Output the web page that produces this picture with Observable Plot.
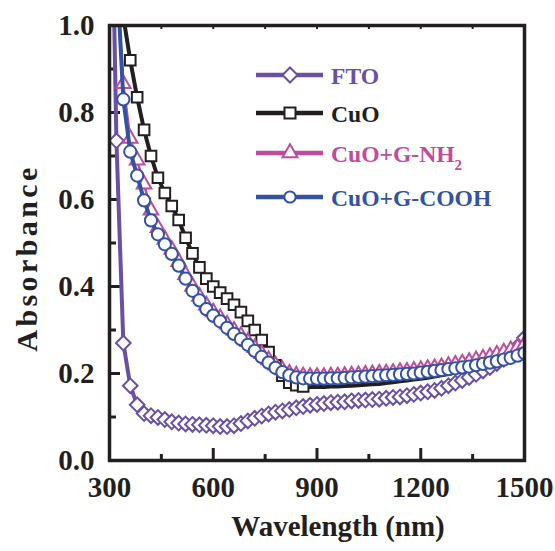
<!DOCTYPE html>
<html><head><meta charset="utf-8">
<script src="https://cdn.jsdelivr.net/npm/d3@7"></script>
<script src="https://cdn.jsdelivr.net/npm/@observablehq/plot@0.6"></script>
<style>
body{margin:0;background:#fff}
#chart{width:555px;height:551px}
</style>
</head><body><div id="chart"></div>
<script>
// ---------- data ----------
const wavelength = [300,320,340,360,380,400,420,440,460,480,500,520,540,560,580,600,620,640,660,680,700,720,740,760,780,800,820,840,860,880,900,920,940,960,980,1000,1020,1040,1060,1080,1100,1120,1140,1160,1180,1200,1220,1240,1260,1280,1300,1320,1340,1360,1380,1400,1420,1440,1460,1480,1500];
const ftoValues = [1.6,0.735,0.27,0.172,0.128,0.108,0.103,0.099,0.094,0.089,0.086,0.084,0.083,0.082,0.081,0.080,0.078,0.078,0.080,0.085,0.091,0.097,0.102,0.107,0.111,0.114,0.117,0.121,0.124,0.127,0.129,0.131,0.133,0.134,0.135,0.137,0.138,0.139,0.140,0.141,0.143,0.145,0.146,0.149,0.152,0.155,0.158,0.161,0.166,0.172,0.178,0.184,0.191,0.198,0.206,0.214,0.223,0.233,0.246,0.262,0.282];
const cuoValues = [1.30,1.15,1.02,0.92,0.835,0.76,0.70,0.65,0.615,0.585,0.553,0.512,0.476,0.444,0.418,0.400,0.386,0.372,0.358,0.341,0.321,0.300,0.277,0.249,0.219,0.195,0.179,0.173,0.170,0.169,0.169,0.169,0.170,0.170,0.171,0.172,0.173,0.174,0.175,0.176,0.178,0.180,0.182,0.184,0.186,0.188,0.190,0.193,0.196,0.199,0.202,0.206,0.209,0.212,0.215,0.218,0.222,0.227,0.233,0.240,0.248];
const nh2Values = [1.5,1.12,0.866,0.74,0.69,0.635,0.575,0.535,0.508,0.485,0.457,0.427,0.400,0.377,0.357,0.341,0.328,0.313,0.299,0.287,0.273,0.259,0.245,0.231,0.219,0.208,0.200,0.196,0.194,0.193,0.193,0.193,0.194,0.194,0.195,0.196,0.197,0.198,0.199,0.200,0.201,0.202,0.204,0.205,0.207,0.209,0.211,0.213,0.215,0.218,0.221,0.224,0.227,0.231,0.235,0.239,0.244,0.249,0.254,0.260,0.267];
const coohValues = [1.5,1.14,0.83,0.71,0.655,0.598,0.552,0.52,0.497,0.475,0.448,0.418,0.39,0.368,0.348,0.333,0.32,0.305,0.291,0.279,0.266,0.252,0.238,0.225,0.213,0.203,0.196,0.191,0.189,0.188,0.188,0.188,0.189,0.189,0.190,0.191,0.192,0.193,0.194,0.195,0.196,0.197,0.198,0.199,0.200,0.202,0.204,0.206,0.208,0.210,0.212,0.214,0.216,0.219,0.222,0.225,0.228,0.232,0.236,0.241,0.247];
const cuoMarkerMax = 860; // squares are shown only up to here
const xTicks = [300,600,900,1200,1500];
const xMinorTicks = [450,750,1050,1350];
const yTicks = [0,0.2,0.4,0.6,0.8,1.0];
const yMinorTicks = [0.1,0.3,0.5,0.7,0.9];
const seriesNames = ["FTO","CuO","CuO+G-NH","CuO+G-COOH"];
const seriesSub = ["","","2",""];
const seriesColors = ["#6a4fa6","#231f20","#bf4c9c","#3352a3"];
const xLabel = "Wavelength (nm)";
const yLabel = "Absorbance";

// ---------- layout ----------
const W = 555, H = 551;
const mL = 109, mR = 31, mT = 25, mB = 91;
const plotW = W - mL - mR, plotH = H - mT - mB;
const serif = "'Liberation Serif','Times New Roman',Times,serif";
const ink = "#231f20";

const mk = vals => wavelength.map((wl, i) => ({wl, v: vals[i]}));
const fto = mk(ftoValues), cuo = mk(cuoValues), nh2 = mk(nh2Values), cooh = mk(coohValues);

const plot = Plot.plot({
  width: W, height: H,
  marginLeft: mL, marginRight: mR, marginTop: mT, marginBottom: mB,
  style: {fontFamily: serif, fontSize: "29px", fontWeight: "bold", color: ink, background: "#fff"},
  x: {domain: [300, 1500]},
  y: {domain: [0, 1]},
  marks: [
    Plot.axisX({ticks: xTicks, tickSize: 0, tickPadding: 16, tickFormat: d3.format("d"), label: null, fontSize: 29, fontWeight: "bold"}),
    Plot.axisY({ticks: yTicks, tickSize: 0, tickPadding: 15, tickFormat: d3.format(".1f"), label: null, fontSize: 29, fontWeight: "bold"}),
    // inward ticks
    Plot.tickX(xTicks, {x: d => d, insetTop: plotH - 12, stroke: ink, strokeWidth: 3}),
    Plot.tickX(xMinorTicks, {x: d => d, insetTop: plotH - 6, stroke: ink, strokeWidth: 3}),
    Plot.tickX(xTicks.concat(xMinorTicks), {x: d => d, insetBottom: plotH - 4, stroke: ink, strokeWidth: 2}),
    Plot.tickY(yTicks, {y: d => d, insetRight: plotW - 11, stroke: ink, strokeWidth: 3}),
    Plot.tickY(yMinorTicks, {y: d => d, insetRight: plotW - 7, stroke: ink, strokeWidth: 3}),
    // FTO
    Plot.line(fto, {x: "wl", y: "v", stroke: seriesColors[0], strokeWidth: 4, clip: true}),
    Plot.dot(fto, {x: "wl", y: "v", symbol: "diamond2", r: 6.6, fill: "white", stroke: seriesColors[0], strokeWidth: 2, clip: true}),
    // CuO
    Plot.line(cuo, {x: "wl", y: "v", stroke: seriesColors[1], strokeWidth: 4, clip: true}),
    Plot.dot(cuo.filter(d => d.wl <= cuoMarkerMax), {x: "wl", y: "v", symbol: "square", r: 6.0, fill: "white", stroke: seriesColors[1], strokeWidth: 2, clip: true}),
    // NH2
    Plot.line(nh2, {x: "wl", y: "v", stroke: seriesColors[2], strokeWidth: 2.5, clip: true}),
    Plot.dot(nh2, {x: "wl", y: "v", symbol: "triangle", r: 5.4, fill: "white", stroke: seriesColors[2], strokeWidth: 2, clip: true}),
    // COOH
    Plot.line(cooh, {x: "wl", y: "v", stroke: seriesColors[3], strokeWidth: 4, clip: true}),
    Plot.dot(cooh, {x: "wl", y: "v", symbol: "circle", r: 6.1, fill: "white", stroke: seriesColors[3], strokeWidth: 2, clip: true}),
    Plot.frame({stroke: ink, strokeWidth: 3.5}),
    Plot.text([xLabel], {text: d => d, frameAnchor: "bottom", dx: 21, dy: 75, fontSize: 29, fontWeight: "bold", fill: ink}),
    Plot.text([yLabel], {text: d => d, frameAnchor: "left", textAnchor: "middle", rotate: -90, dx: -82, dy: 15, fontSize: 30, fontWeight: "bold", fill: ink, className: "ylabel"})
  ]
});
document.getElementById("chart").appendChild(plot);

const svg = d3.select(plot);
svg.selectAll(".ylabel text").attr("letter-spacing", 3.4);

// ---------- legend (inside the frame) ----------
const legRows = [75, 113, 153, 197];
const legSymbols = [
  {type: d3.symbolDiamond2, size: 144},
  {type: d3.symbolSquare, size: 121},
  {type: d3.symbolTriangle, size: 97},
  {type: d3.symbolCircle, size: Math.PI * 5.6 * 5.6}
];
const lg = svg.append("g").attr("font-family", serif).attr("font-weight", "bold").attr("text-anchor", "start");
seriesNames.forEach((name, i) => {
  const y = legRows[i], c = seriesColors[i];
  lg.append("line").attr("x1", 256).attr("x2", 323).attr("y1", y).attr("y2", y)
    .attr("stroke", c).attr("stroke-width", 4.5);
  lg.append("path").attr("d", d3.symbol(legSymbols[i].type, legSymbols[i].size)())
    .attr("transform", `translate(290,${y})`).attr("fill", "white").attr("stroke", c).attr("stroke-width", 2);
  const t = lg.append("text").attr("x", 331).attr("y", y + 8.8).attr("fill", c).attr("font-size", 23.6)
    .attr("text-anchor", "start").text(name);
  if (seriesSub[i]) t.append("tspan").attr("font-size", 15).attr("dy", 8).text(seriesSub[i]);
});
</script>
</body></html>
